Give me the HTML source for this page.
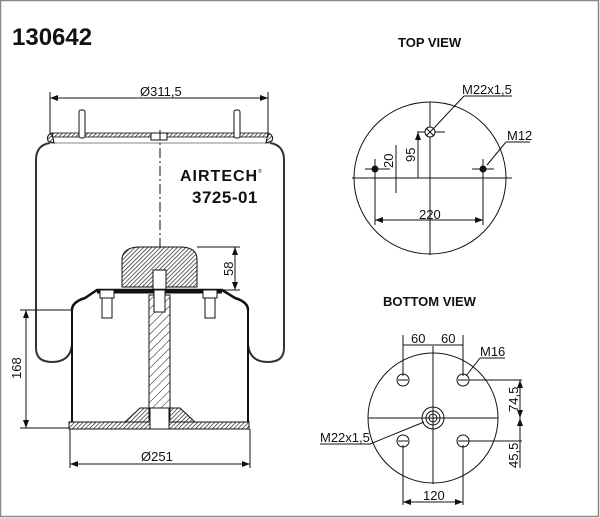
<!DOCTYPE html>
<html><head><meta charset="utf-8"><style>
html,body{margin:0;padding:0;background:#fff}
svg{display:block}
text{font-family:"Liberation Sans Narrow","Liberation Sans",sans-serif;fill:#111}
</style></head><body>
<svg width="600" height="518" viewBox="0 0 600 518" xmlns="http://www.w3.org/2000/svg">
<defs>
<pattern id="h" width="3" height="3" patternUnits="userSpaceOnUse" patternTransform="rotate(45)"><line x1="0" y1="0" x2="0" y2="3" stroke="#222" stroke-width="1.4"/></pattern>
<pattern id="h2" width="6" height="6" patternUnits="userSpaceOnUse" patternTransform="rotate(45)"><line x1="0" y1="0" x2="0" y2="6" stroke="#222" stroke-width="1"/></pattern>
<marker id="a" markerWidth="8" markerHeight="6" refX="8" refY="3" orient="auto-start-reverse"><path d="M0,0 L8,3 L0,6 z" fill="#111"/></marker>
</defs>
<rect x="0.5" y="0.5" width="598" height="516" fill="none" stroke="#888" stroke-width="1.5"/>
<text x="12" y="45" font-size="24" font-weight="bold">130642</text>
<text x="398" y="47" font-size="13" font-weight="bold">TOP VIEW</text>
<text x="383" y="306" font-size="13" font-weight="bold">BOTTOM VIEW</text>

<g stroke="#111" fill="none" stroke-width="1">
<line x1="50" y1="98" x2="268" y2="98" marker-start="url(#a)" marker-end="url(#a)"/>
<line x1="50" y1="92" x2="50" y2="135"/><line x1="268" y1="92" x2="268" y2="135"/>
<rect x="52" y="133" width="216" height="4" fill="url(#h)" stroke-width="0.8"/>
<path d="M52,133 q-6,2 -4,8 l6,2 z M268,133 q6,2 4,8 l-6,2 z" fill="url(#h)"/>
<rect x="79" y="110" width="6" height="28" rx="2" fill="#fff"/>
<rect x="234" y="110" width="6" height="28" rx="2" fill="#fff"/>
<rect x="151" y="133" width="16" height="7" fill="#fff"/>
<path d="M50,143 Q36,145 36,160 L36,348 Q36,362 52,362 Q70,362 72,345 L72,320" stroke-width="2" stroke="#333"/>
<path d="M270,143 Q284,145 284,160 L284,348 Q284,362 268,362 Q250,362 248,345 L248,320" stroke-width="2" stroke="#333"/>
<path d="M50,143 L270,143" stroke-width="0.6"/>
<line x1="160" y1="130" x2="160" y2="248" stroke-dasharray="10,3,2,3"/>
<path d="M122,287 L122,258 Q124,247 140,247 L180,247 Q196,247 197,258 L197,287 Z" fill="url(#h)"/>
<rect x="153" y="270" width="13" height="20" fill="#fff"/>
<path d="M72,310 Q72,302 85,298 L97,290 L222,290 L235,298 Q248,302 248,310" stroke-width="2.5"/>
<path d="M97,292 L222,292" stroke-width="3"/>
<rect x="102" y="290" width="10" height="28" fill="#fff"/><rect x="100" y="290" width="14" height="8" fill="#fff"/>
<rect x="205" y="290" width="10" height="28" fill="#fff"/><rect x="203" y="290" width="14" height="8" fill="#fff"/>
<line x1="72" y1="310" x2="72" y2="422" stroke-width="2"/>
<line x1="248" y1="310" x2="248" y2="422" stroke-width="2"/>
<rect x="149" y="295" width="21" height="125" fill="url(#h2)"/>
<rect x="154" y="290" width="11" height="22" fill="#fff"/>
<rect x="69" y="422" width="180" height="7" fill="url(#h)"/>
<path d="M125,422 L140,408 L180,408 L195,422 Z" fill="url(#h)"/>
<rect x="150" y="408" width="19" height="21" fill="#fff"/>
<line x1="70" y1="429" x2="70" y2="468"/><line x1="250" y1="429" x2="250" y2="468"/>
<line x1="70" y1="464" x2="250" y2="464" marker-start="url(#a)" marker-end="url(#a)"/>
<line x1="20" y1="310" x2="72" y2="310"/><line x1="20" y1="428" x2="69" y2="428"/>
<line x1="26" y1="310" x2="26" y2="428" marker-start="url(#a)" marker-end="url(#a)"/>
<line x1="197" y1="247" x2="240" y2="247"/><line x1="197" y1="290" x2="240" y2="290"/>
<line x1="235" y1="247" x2="235" y2="290" marker-start="url(#a)" marker-end="url(#a)"/>

<circle cx="430" cy="178" r="76"/>
<line x1="430" y1="102" x2="430" y2="255"/>
<line x1="352" y1="178" x2="512" y2="178"/>
<line x1="417" y1="132" x2="445" y2="132"/>
<circle cx="430" cy="132" r="5" fill="#fff"/>
<line x1="426" y1="128" x2="434" y2="136"/><line x1="434" y1="128" x2="426" y2="136"/>
<line x1="365" y1="169" x2="390" y2="169"/><line x1="375" y1="159" x2="375" y2="225"/>
<line x1="472" y1="169" x2="494" y2="169"/><line x1="483" y1="159" x2="483" y2="225"/>
<line x1="375" y1="220" x2="483" y2="220" marker-start="url(#a)" marker-end="url(#a)"/>
<line x1="418" y1="132" x2="418" y2="178" marker-start="url(#a)"/>
<line x1="396" y1="145" x2="396" y2="193"/>
<line x1="434" y1="128" x2="464" y2="96"/><line x1="464" y1="96" x2="512" y2="96"/>
<line x1="487" y1="165" x2="506" y2="142"/><line x1="506" y1="142" x2="530" y2="142"/>

<circle cx="433" cy="418" r="65"/>
<line x1="433" y1="346" x2="433" y2="484"/>
<line x1="368" y1="418" x2="498" y2="418"/>
<circle cx="433" cy="418" r="11"/><circle cx="433" cy="418" r="7"/><circle cx="433" cy="418" r="4"/>
<circle cx="403" cy="380" r="6"/><circle cx="463" cy="380" r="6"/>
<circle cx="403" cy="441" r="6"/><circle cx="463" cy="441" r="6"/>
<path d="M398,380 h10 M458,380 h10 M398,441 h10 M458,441 h10"/>
<line x1="403" y1="335" x2="403" y2="376"/><line x1="463" y1="335" x2="463" y2="376"/>
<line x1="403" y1="345" x2="463" y2="345"/>
<line x1="403" y1="445" x2="403" y2="505"/><line x1="463" y1="445" x2="463" y2="505"/>
<line x1="403" y1="502" x2="463" y2="502" marker-start="url(#a)" marker-end="url(#a)"/>
<line x1="469" y1="380" x2="522" y2="380"/><line x1="460" y1="441" x2="522" y2="441"/>
<line x1="520" y1="380" x2="520" y2="418" marker-start="url(#a)" marker-end="url(#a)"/>
<line x1="520" y1="418" x2="520" y2="468" marker-start="url(#a)"/>
<line x1="466" y1="376" x2="480" y2="358"/><line x1="480" y1="358" x2="505" y2="358"/>
<line x1="424" y1="422" x2="370" y2="444"/><line x1="370" y1="444" x2="320" y2="444"/>
</g>
<g fill="#111">
<circle cx="375" cy="169" r="3.5"/><circle cx="483" cy="169" r="3.5"/>
</g>
<text x="180" y="181" font-size="16" font-weight="bold" letter-spacing="1">AIRTECH</text>
<text x="258" y="173" font-size="5">®</text>
<text x="192" y="203" font-size="17" font-weight="bold" letter-spacing="0.5">3725-01</text>
<text x="140" y="96" font-size="13">Ø311,5</text>
<text x="141" y="461" font-size="13">Ø251</text>
<text transform="translate(21,379) rotate(-90)" font-size="13">168</text>
<text transform="translate(233,276) rotate(-90)" font-size="13">58</text>
<text x="462" y="94" font-size="13">M22x1,5</text>
<text x="507" y="140" font-size="13">M12</text>
<text x="419" y="219" font-size="13">220</text>
<text transform="translate(393,168) rotate(-90)" font-size="13">20</text>
<text transform="translate(415,162) rotate(-90)" font-size="13">95</text>
<text x="411" y="343" font-size="13">60</text>
<text x="441" y="343" font-size="13">60</text>
<text x="480" y="356" font-size="13">M16</text>
<text x="320" y="442" font-size="13">M22x1,5</text>
<text x="423" y="500" font-size="13">120</text>
<text transform="translate(518,412) rotate(-90)" font-size="13">74,5</text>
<text transform="translate(518,468) rotate(-90)" font-size="13">45,5</text>
</svg>
</body></html>
